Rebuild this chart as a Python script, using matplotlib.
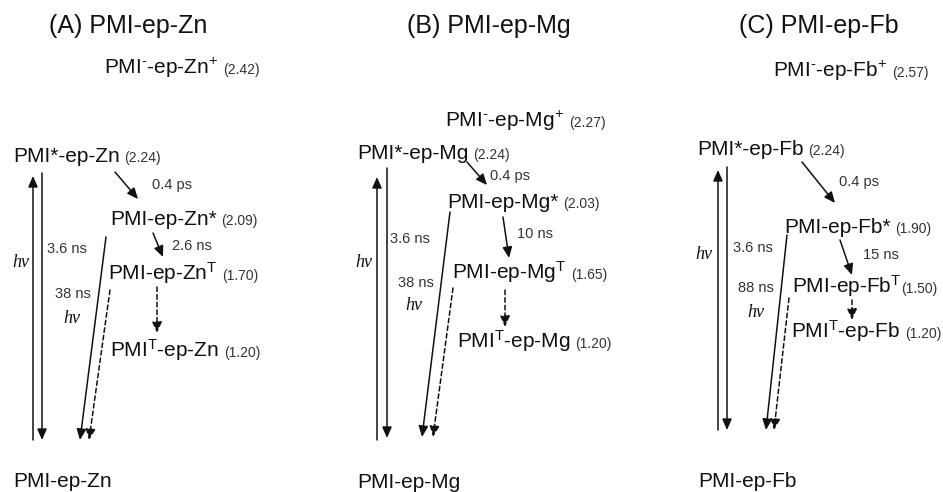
import matplotlib.pyplot as plt

plt.rcParams['font.family'] = ['Liberation Sans', 'DejaVu Sans']
plt.rcParams['mathtext.fontset'] = 'custom'
plt.rcParams['mathtext.rm'] = 'Liberation Sans'
plt.rcParams['mathtext.it'] = 'Liberation Sans:italic'

## values
titles = ['(A) PMI-ep-Zn', '(B) PMI-ep-Mg', '(C) PMI-ep-Fb']
metals = ['Zn', 'Mg', 'Fb']
e_cs = [2.42, 2.27, 2.57]       # PMI- -ep-M+
e_pmi_s1 = [2.24, 2.24, 2.24]   # PMI*-ep-M
e_por_s1 = [2.09, 2.03, 1.90]   # PMI-ep-M*
e_por_t = [1.70, 1.65, 1.50]    # PMI-ep-M^T
e_pmi_t = [1.20, 1.20, 1.20]    # PMI^T-ep-M
t_cs = ['0.4 ps', '0.4 ps', '0.4 ps']
t_pmi = ['3.6 ns', '3.6 ns', '3.6 ns']
t_isc = ['2.6 ns', '10 ns', '15 ns']
t_fl = ['38 ns', '38 ns', '88 ns']

## layout in pixels (x, baseline y)
lay = [
    dict(title=(49, 33), cs=(104, 74), s1=(13, 162), ps1=(110, 225), pt=(108, 280), mt=(110, 357), gs=(13, 487),
         up=(33, 440, 176), dn=(42, 173, 440), cs_arr=(115, 172, 138, 199), isc_arr=(153, 233, 163, 257),
         fl_arr=(106, 237, 80, 440), ph_arr=(110, 290, 89, 440), tt_arr=(157, 287, 157, 333),
         l_cs=(152, 189), l_pmi=(47, 253), l_isc=(172, 250), l_fl=(55, 298), hv1=(12, 267), hv2=(63, 323), tgap=3.5),
    dict(title=(407, 33), cs=(445, 127), s1=(357, 159), ps1=(447, 208), pt=(452, 279), mt=(457, 348), gs=(357, 488),
         up=(377, 440, 177), dn=(387, 168, 438), cs_arr=(467, 162, 487, 185), isc_arr=(503, 217, 509, 258),
         fl_arr=(450, 212, 422, 437), ph_arr=(453, 288, 433, 437), tt_arr=(505, 290, 505, 327),
         l_cs=(490, 180), l_pmi=(390, 243), l_isc=(517, 238), l_fl=(398, 287), hv1=(355, 267), hv2=(405, 310), tgap=3.5),
    dict(title=(739, 33), cs=(773, 77), s1=(697, 155), ps1=(784, 233), pt=(792, 293), mt=(791, 338), gs=(698, 487),
         up=(718, 430, 170), dn=(727, 167, 430), cs_arr=(802, 162, 835, 203), isc_arr=(840, 240, 852, 275),
         fl_arr=(787, 235, 766, 430), ph_arr=(789, 298, 774, 430), tt_arr=(852, 300, 852, 320),
         l_cs=(839, 186), l_pmi=(733, 252), l_isc=(863, 259), l_fl=(738, 292), hv1=(695, 259), hv2=(747, 317), tgap=0),
]

fig = plt.figure(figsize=(9.43, 4.92), dpi=100)
ax = fig.add_axes([0, 0, 1, 1])
ax.set_xlim(0, 943)
ax.set_ylim(492, 0)
ax.axis('off')

INK = '#111111'
GREY = '#333333'


def level(xy, text, energy, gap=3.5):
    t = ax.text(xy[0], xy[1], text, fontsize=15, color=INK, va='baseline', ha='left')
    if energy is not None:
        ax.annotate('(%.2f)' % energy, xy=(1, xy[1]), xycoords=(t, 'data'),
                    xytext=(gap, 0), textcoords='offset points',
                    fontsize=10, color=GREY, va='baseline', ha='left')


def arrow(x0, y0, x1, y1, dashed=False):
    ax.annotate('', xy=(x1, y1), xytext=(x0, y0),
                arrowprops=dict(arrowstyle='-|>,head_length=0.5,head_width=0.22', color=INK, lw=1.1,
                                linestyle=(0, (3, 2)) if dashed else '-',
                                shrinkA=0, shrinkB=0, mutation_scale=13))


def small(xy, text):
    ax.text(xy[0], xy[1], text, fontsize=10.5, color=GREY, va='baseline', ha='left')


def hv(xy):
    ax.text(xy[0], xy[1], 'h\u03bd', fontsize=13, color=INK, va='baseline', ha='left',
            family='Liberation Serif', style='italic')


for i, L in enumerate(lay):
    m = metals[i]
    ax.text(L['title'][0], L['title'][1], titles[i], fontsize=18, color=INK, va='baseline')
    level(L['cs'], 'PMI$^{\\text{-}}$-ep-%s$^{+}$' % m, e_cs[i])
    level(L['s1'], 'PMI*-ep-%s' % m, e_pmi_s1[i])
    level(L['ps1'], 'PMI-ep-%s*' % m, e_por_s1[i])
    level(L['pt'], 'PMI-ep-%s$^{\\mathrm{T}}$' % m, e_por_t[i], gap=L['tgap'])
    level(L['mt'], 'PMI$^{\\mathrm{T}}$-ep-%s' % m, e_pmi_t[i])
    level(L['gs'], 'PMI-ep-%s' % m, None)

    x, yb, yt = L['up']
    arrow(x, yb, x, yt)
    x, y0, y1 = L['dn']
    arrow(x, y0, x, y1)
    arrow(*L['cs_arr'])
    arrow(*L['isc_arr'])
    arrow(*L['fl_arr'])
    arrow(*L['ph_arr'], dashed=True)
    arrow(*L['tt_arr'], dashed=True)

    small(L['l_cs'], t_cs[i])
    small(L['l_pmi'], t_pmi[i])
    small(L['l_isc'], t_isc[i])
    small(L['l_fl'], t_fl[i])
    hv(L['hv1'])
    hv(L['hv2'])

fig.savefig('out.png', dpi=100)
